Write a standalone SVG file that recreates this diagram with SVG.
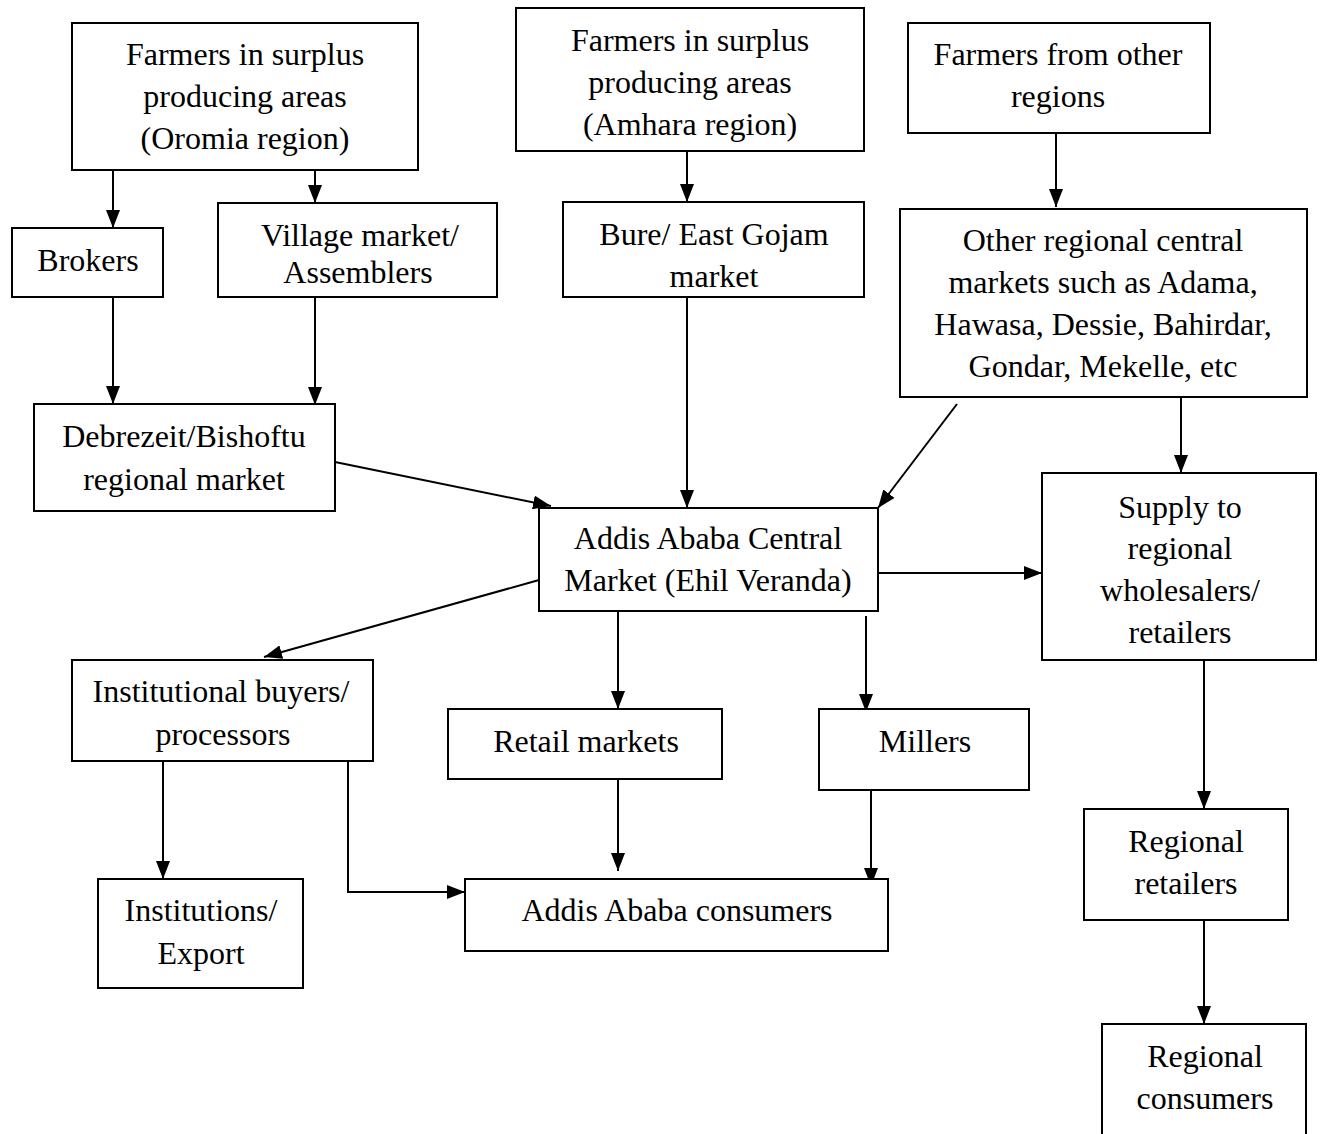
<svg xmlns="http://www.w3.org/2000/svg" width="1326" height="1134" viewBox="0 0 1326 1134">
<style>
.box{fill:#fff;stroke:#000;stroke-width:2}
.t{font-family:"Liberation Serif","Times New Roman",serif;font-size:32px;fill:#000;text-anchor:middle}
.c{fill:none;stroke:#000;stroke-width:2}
.a{marker-end:url(#ah)}
</style>
<defs>
<marker id="ah" markerUnits="userSpaceOnUse" markerWidth="18" markerHeight="14" refX="18" refY="7" orient="auto" viewBox="0 0 18 14">
<path d="M0,0 L18,7 L0,14 Z" fill="#000"/>
</marker>
</defs>
<rect width="1326" height="1134" fill="#fff"/>
<g id="connectors">
<path class="c a" d="M113 168 V228"/>
<path class="c a" d="M315 170 V203"/>
<path class="c a" d="M113 297 V404"/>
<path class="c a" d="M315 297 V405"/>
<path class="c a" d="M687 151 V202"/>
<path class="c a" d="M1056 133 V207"/>
<path class="c a" d="M687 297 V508"/>
<path class="c a" d="M335 462 L551 506"/>
<path class="c a" d="M957 404 L878 508"/>
<path class="c a" d="M1181 397 V473"/>
<path class="c a" d="M878 573 H1042"/>
<path class="c a" d="M539 580 L264 657"/>
<path class="c a" d="M618 611 V709"/>
<path class="c a" d="M866 616 V712"/>
<path class="c a" d="M163 761 V879"/>
<path class="c a" d="M348 762 V892 H465"/>
<path class="c a" d="M618 772 V871"/>
<path class="c a" d="M871 790 V886"/>
<path class="c a" d="M1204 660 V809"/>
<path class="c a" d="M1204 920 V1024"/>
</g>
<g id="oromia"><rect class="box" x="72" y="23" width="346" height="147"/>
<text class="t" x="245" y="65">Farmers in surplus</text><text class="t" x="245" y="107">producing areas</text><text class="t" x="245" y="149">(Oromia region)</text></g>
<g id="brokers"><rect class="box" x="12" y="228" width="151" height="69"/>
<text class="t" x="88" y="271">Brokers</text></g>
<g id="village"><rect class="box" x="218" y="203" width="279" height="94"/>
<text class="t" x="360" y="246">Village market/</text><text class="t" x="358" y="283">Assemblers</text></g>
<g id="amhara"><rect class="box" x="516" y="8" width="348" height="143"/>
<text class="t" x="690" y="51">Farmers in surplus</text><text class="t" x="690" y="93">producing areas</text><text class="t" x="690" y="135">(Amhara region)</text></g>
<g id="other-farmers"><rect class="box" x="908" y="23" width="302" height="110"/>
<text class="t" x="1058" y="65">Farmers from other</text><text class="t" x="1058" y="107">regions</text></g>
<g id="bure"><rect class="box" x="563" y="202" width="301" height="95"/>
<text class="t" x="714" y="245">Bure/ East Gojam</text><text class="t" x="714" y="287">market</text></g>
<g id="other-regional"><rect class="box" x="900" y="209" width="407" height="188"/>
<text class="t" x="1103" y="251">Other regional central</text><text class="t" x="1103" y="293">markets such as Adama,</text><text class="t" x="1103" y="335">Hawasa, Dessie, Bahirdar,</text><text class="t" x="1103" y="377">Gondar, Mekelle, etc</text></g>
<g id="debrezeit"><rect class="box" x="34" y="404" width="301" height="107"/>
<text class="t" x="184" y="447">Debrezeit/Bishoftu</text><text class="t" x="184" y="490">regional market</text></g>
<g id="addis-central"><rect class="box" x="539" y="508" width="339" height="103"/>
<text class="t" x="708" y="549">Addis Ababa Central</text><text class="t" x="708" y="591">Market (Ehil Veranda)</text></g>
<g id="supply"><rect class="box" x="1042" y="473" width="274" height="187"/>
<text class="t" x="1180" y="518">Supply to</text><text class="t" x="1180" y="559">regional</text><text class="t" x="1180" y="601">wholesalers/</text><text class="t" x="1180" y="643">retailers</text></g>
<g id="institutional"><rect class="box" x="72" y="660" width="301" height="101"/>
<text class="t" x="221" y="702">Institutional buyers/</text><text class="t" x="223" y="745">processors</text></g>
<g id="retail"><rect class="box" x="448" y="709" width="274" height="70"/>
<text class="t" x="586" y="752">Retail markets</text></g>
<g id="millers"><rect class="box" x="819" y="709" width="210" height="81"/>
<text class="t" x="925" y="752">Millers</text></g>
<g id="addis-consumers"><rect class="box" x="465" y="879" width="423" height="72"/>
<text class="t" x="677" y="921">Addis Ababa consumers</text></g>
<g id="institutions"><rect class="box" x="98" y="879" width="205" height="109"/>
<text class="t" x="201" y="921">Institutions/</text><text class="t" x="201" y="964">Export</text></g>
<g id="regional-retailers"><rect class="box" x="1084" y="809" width="204" height="111"/>
<text class="t" x="1186" y="852">Regional</text><text class="t" x="1186" y="894">retailers</text></g>
<g id="regional-consumers"><rect class="box" x="1102" y="1024" width="204" height="130"/>
<text class="t" x="1205" y="1067">Regional</text><text class="t" x="1205" y="1109">consumers</text></g>
</svg>
